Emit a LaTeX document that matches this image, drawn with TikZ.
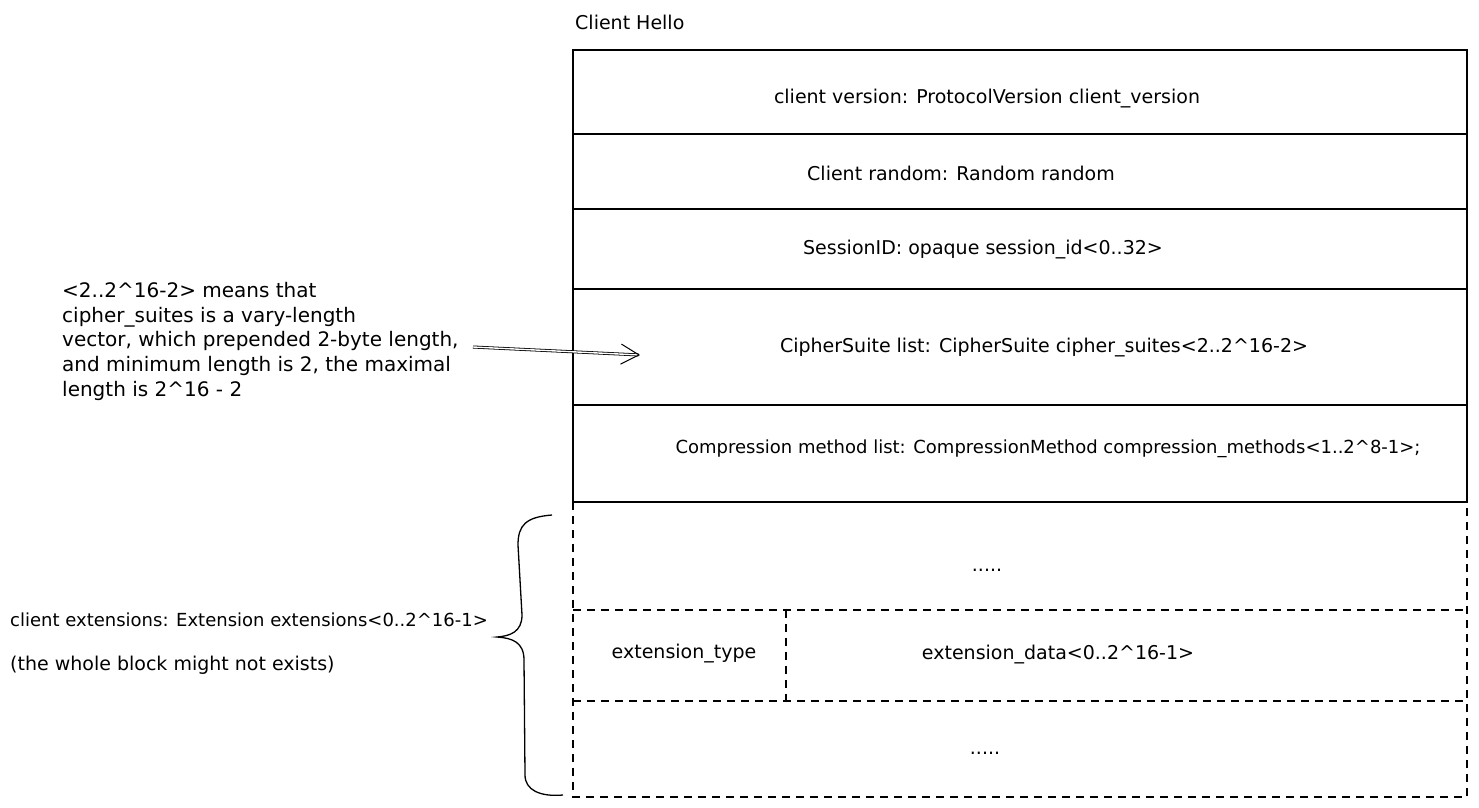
\documentclass[tikz,border=0pt]{standalone}
\usepackage{fontspec}
\setmainfont{DejaVu Sans}
\usetikzlibrary{arrows.meta}
\tikzset{
  lbl/.style={inner sep=0pt, font=\fontsize{19}{24.7}\selectfont},
  smalllbl/.style={inner sep=0pt, font=\fontsize{18}{24.7}\selectfont},
  notelbl/.style={inner sep=0pt, font=\fontsize{20}{24.7}\selectfont},
  solidline/.style={line width=1.2pt, black},
  dashline/.style={line width=1.2pt, black, dash pattern=on 8pt off 6pt},
}
\begin{document}
\begin{tikzpicture}[x=1pt, y=-1pt]
\useasboundingbox (0,0) rectangle (1479,807);
% title
\node[lbl, anchor=west] (title) at (575,22) {Client Hello};
% solid block
\draw[solidline] (573,50) rectangle (1467,502);
\foreach \yy in {134,209,289,405} \draw[solidline] (573,\yy) -- (1467,\yy);
\node[lbl] (ver) at (987,99) {client version: ProtocolVersion client\_version};
\node[lbl] (rnd) at (961,173) {Client random: Random random};
\node[lbl] (sid) at (983,250) {SessionID: opaque session\_id<0..32>};
\node[lbl] (cs) at (1044,348) {CipherSuite list: CipherSuite cipher\_suites<2..2\textasciicircum16-2>};
\node[smalllbl] (cm) at (1048,449) {Compression method list: CompressionMethod compression\_methods<1..2\textasciicircum8-1>;};
% dashed block
\draw[dashline] (573,502) -- (573,797) -- (1467,797) -- (1467,502);
\draw[dashline] (573,610) -- (1467,610);
\draw[dashline] (573,701) -- (1467,701);
\draw[dashline] (786,610) -- (786,705);
\node[lbl, anchor=base] (d1) at (987,571) {.....};
\node[lbl, anchor=base] (d2) at (985,754) {.....};
\node[lbl] (et) at (684,654) {extension\_type};
\node[lbl] (ed) at (1058,655) {extension\_data<0..2\textasciicircum16-1>};
% left note
\node[notelbl, anchor=north west, align=left] (note) at (62,282) {<2..2\textasciicircum16-2> means that\\cipher\_suites is a vary-length\\vector, which prepended 2-byte length,\\and minimum length is 2, the maximal\\length is 2\textasciicircum16 - 2};
\coordinate (tip) at (640,355);
\coordinate (tail) at (473,347);
\draw[line width=0.8pt, double, double distance=1.4pt, -{Straight Barb[length=18pt, width=20pt, line width=1pt]}] (tail) -- (tip);
% brace
\draw[line width=1.3pt] (552,515) .. controls (526,517) and (518,525) .. (518,545) -- (522,615) .. controls (522,632) and (510,636) .. (497,637) .. controls (512,638) and (524,642) .. (524,660) -- (525,775) .. controls (525,790) and (540,797) .. (563,795);
\node[smalllbl, anchor=west] (ext) at (10,620) {client extensions: Extension extensions<0..2\textasciicircum16-1>};
\node[lbl, anchor=west] (whole) at (10,665) {(the whole block might not exists)};
\end{tikzpicture}
\end{document}
